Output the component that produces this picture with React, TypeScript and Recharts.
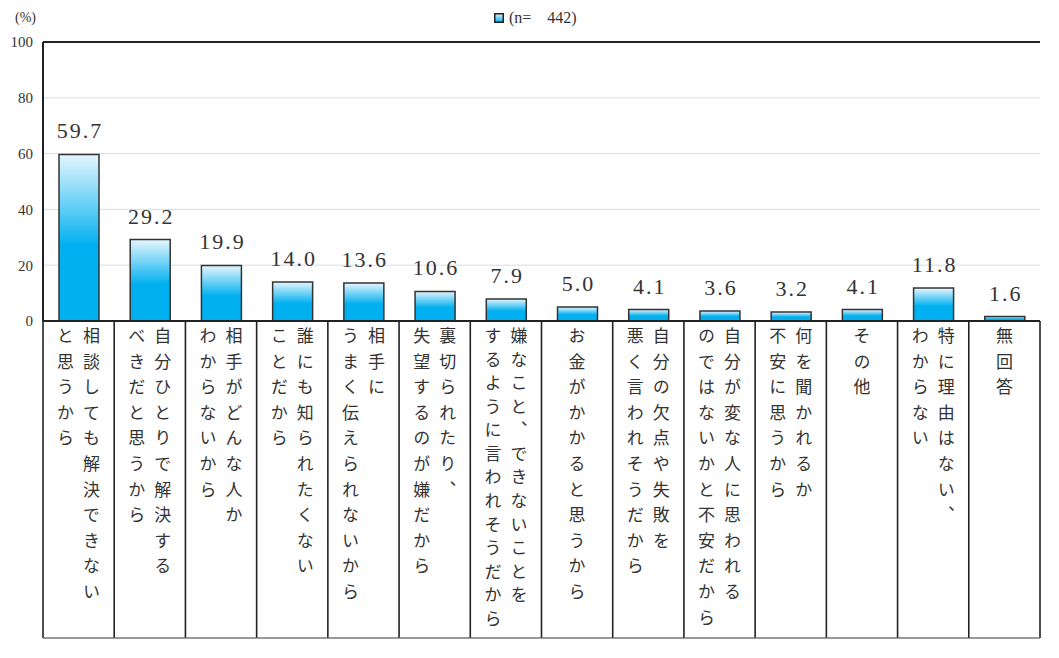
import React from 'react'
import {
  BarChart,
  Bar,
  XAxis,
  YAxis,
  CartesianGrid,
  LabelList,
  Legend,
  ReferenceLine,
} from 'recharts'

// 相談しない理由（複数回答）
const categories = [
  '相談しても解決できない\nと思うから',
  '自分ひとりで解決する\nべきだと思うから',
  '相手がどんな人か\nわからないから',
  '誰にも知られたくない\nことだから',
  '相手に\nうまく伝えられないから',
  '裏切られたり、\n失望するのが嫌だから',
  '嫌なこと、できないことを\nするように言われそうだから',
  'お金がかかると思うから',
  '自分の欠点や失敗を\n悪く言われそうだから',
  '自分が変な人に思われる\nのではないかと不安だから',
  '何を聞かれるか\n不安に思うから',
  'その他',
  '特に理由はない、\nわからない',
  '無回答',
]
const values = [59.7, 29.2, 19.9, 14.0, 13.6, 10.6, 7.9, 5.0, 4.1, 3.6, 3.2, 4.1, 11.8, 1.6]
const yTicks = [0, 20, 40, 60, 80, 100]
const sampleSize = 442

const data = categories.map((name, i) => ({ name, value: values[i] }))

const W = 1059
const H = 658
const Y_W = 43
const X_H = 337
const MARGIN = { top: 42, right: 19, left: 0, bottom: 0 }
const SERIF = '"Liberation Serif", "DejaVu Serif", serif'
const JP = '"Noto Sans CJK JP", sans-serif'
const TEXT = '#333'

function CategoryTick(props: any) {
  const { x, y, payload, index } = props
  const bw = (W - Y_W - MARGIN.right) / categories.length
  const lines = String(payload.value).split('\n')
  const maxLen = Math.max(...lines.map((l) => l.length))
  const pitch = Math.min(25.6, 283 / Math.max(1, maxLen - 1))
  const fs = 17
  const left = x - bw / 2
  const right = x + bw / 2
  const bottom = y + 317
  return (
    <g>
      <line x1={left} y1={y} x2={left} y2={bottom} stroke="#222" strokeWidth={1.6} />
      {index === categories.length - 1 && (
        <line x1={right} y1={y} x2={right} y2={bottom} stroke="#222" strokeWidth={1.6} />
      )}
      <line x1={left} y1={bottom} x2={right} y2={bottom} stroke="#777" strokeWidth={1.5} />
      {lines.map((line, i) => (
        <text
          key={i}
          x={x + ((lines.length - 1) / 2 - i) * 26}
          y={y + 6}
          fill={TEXT}
          fontSize={fs}
          fontFamily={JP}
          style={{ writingMode: 'vertical-rl', letterSpacing: pitch - fs }}
        >
          {line}
        </text>
      ))}
    </g>
  )
}

function ValueLabel(props: any) {
  const { x, y, width, value } = props
  return (
    <text
      x={x + width / 2 + 1}
      y={y - 16}
      textAnchor="middle"
      fill={TEXT}
      fontSize={22}
      fontFamily={SERIF}
      style={{ letterSpacing: 2 }}
    >
      {Number(value).toFixed(1)}
    </text>
  )
}

const renderLegend = () => (
  <div style={{ display: 'flex', alignItems: 'center', fontFamily: SERIF, fontSize: 16, color: TEXT }}>
    <svg width={10} height={10}>
      <defs>
        <linearGradient id="legendGrad" x1="0" y1="0" x2="0" y2="1">
          <stop offset="0%" stopColor="#dff3fc" />
          <stop offset="100%" stopColor="#00b0f0" />
        </linearGradient>
      </defs>
      <rect x={0.75} y={0.75} width={8.5} height={8.5} fill="url(#legendGrad)" stroke="#222" strokeWidth={1.5} />
    </svg>
    <span style={{ marginLeft: 5, whiteSpace: 'pre' }}>{`(n=    ${sampleSize})`}</span>
  </div>
)

export default function App() {
  return (
    <div style={{ position: 'absolute', left: 0, top: 0, background: '#fff' }}>
      <BarChart width={W} height={H} data={data} margin={MARGIN}>
        <defs>
          <linearGradient id="barGrad" x1="0" y1="0" x2="0" y2="1">
            <stop offset="0%" stopColor="#e6f6fd" />
            <stop offset="55%" stopColor="#00b0f0" />
            <stop offset="100%" stopColor="#00b0f0" />
          </linearGradient>
        </defs>
        <CartesianGrid vertical={false} stroke="#dcdcdc" />
        <XAxis
          dataKey="name"
          interval={0}
          height={X_H}
          tickSize={0}
          tickMargin={0}
          tickLine={false}
          axisLine={{ stroke: '#222', strokeWidth: 2 }}
          tick={<CategoryTick />}
        />
        <YAxis
          domain={[0, 100]}
          ticks={yTicks}
          width={Y_W}
          tickLine={false}
          tickMargin={4}
          axisLine={{ stroke: '#222', strokeWidth: 2 }}
          tick={{ fontSize: 15, fill: TEXT, fontFamily: SERIF }}
          label={{ value: '(%)', position: 'top', offset: 20, dx: 4, fontSize: 14, fill: TEXT, fontFamily: SERIF }}
        />
        <YAxis
          yAxisId="right"
          orientation="right"
          width={0}
          domain={[0, 100]}
          tick={false}
          tickLine={false}
          axisLine={{ stroke: '#999', strokeWidth: 1.5 }}
        />
        <ReferenceLine y={100} stroke="#222" strokeWidth={2} />
        <Legend
          layout="horizontal"
          verticalAlign="middle"
          align="center"
          content={renderLegend}
          wrapperStyle={{ top: 9, left: 494, width: 200, height: 16 }}
        />
        <Bar
          dataKey="value"
          fill="url(#barGrad)"
          stroke="#333"
          strokeWidth={1.5}
          barSize={40}
          isAnimationActive={false}
        >
          <LabelList dataKey="value" content={<ValueLabel />} />
        </Bar>
      </BarChart>
    </div>
  )
}
